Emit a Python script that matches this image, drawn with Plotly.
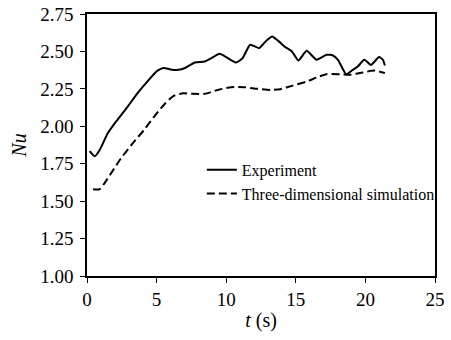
import plotly.graph_objects as go

# Experimental Nusselt number history
t_exp = [0.19, 0.55, 0.9, 1.49, 2.08, 2.91, 3.62, 4.44, 5.04, 5.5, 6.0, 6.57, 7.04,
         7.75, 8.46, 8.93, 9.52, 10.0, 10.7, 11.18, 11.72, 12.36, 12.83, 13.3, 13.78,
         14.25, 14.72, 15.19, 15.78, 16.49, 17.2, 17.67, 18.03, 18.62, 19.09, 19.45,
         19.92, 20.4, 20.98, 21.26, 21.4]
nu_exp = [1.834, 1.80, 1.84, 1.953, 2.031, 2.13, 2.22, 2.31, 2.37, 2.39, 2.38, 2.377, 2.389,
          2.426, 2.433, 2.455, 2.484, 2.462, 2.426, 2.455, 2.545, 2.522, 2.567, 2.60, 2.567,
          2.529, 2.50, 2.44, 2.504, 2.444, 2.478, 2.473, 2.444, 2.348, 2.377, 2.399,
          2.444, 2.41, 2.462, 2.444, 2.406]

# Three-dimensional simulation
t_sim = [0.43, 0.9, 1.25, 1.73, 2.44, 3.38, 4.09, 4.92, 5.63, 6.22, 6.92, 7.51, 8.46,
         9.4, 10.35, 11.3, 12.24, 13.18, 13.89, 14.72, 15.78, 16.49, 17.2, 18.14, 18.85,
         19.8, 20.62, 21.26, 21.4]
nu_sim = [1.579, 1.579, 1.619, 1.686, 1.786, 1.897, 1.975, 2.076, 2.154, 2.203, 2.22, 2.217,
          2.217, 2.243, 2.261, 2.261, 2.25, 2.243, 2.248, 2.27, 2.299, 2.326, 2.348, 2.348,
          2.344, 2.359, 2.372, 2.359, 2.355]

x_ticks = [0, 5, 10, 15, 20, 25]
y_ticks = [1.00, 1.25, 1.50, 1.75, 2.00, 2.25, 2.50, 2.75]

font = "Liberation Serif"

fig = go.Figure()
fig.add_trace(go.Scatter(x=t_exp, y=nu_exp, mode="lines", name="Experiment",
                         line=dict(color="black", width=2, shape="spline", smoothing=0.5)))
fig.add_trace(go.Scatter(x=t_sim, y=nu_sim, mode="lines", name="Three-dimensional simulation",
                         line=dict(color="black", width=2, dash="8px,4px",
                                   shape="spline", smoothing=0.6)))

axis_style = dict(showgrid=False, zeroline=False, showline=True, linecolor="black",
                  linewidth=1.5, mirror=True, ticks="outside", ticklen=5, tickwidth=1.2,
                  tickcolor="black", automargin=False, tickmode="array",
                  tickfont=dict(family=font, size=19, color="black"))

fig.update_layout(
    width=451, height=340,
    margin=dict(l=87, r=11, t=14, b=64),
    paper_bgcolor="white", plot_bgcolor="white",
    font=dict(family=font, size=19, color="black"),
    showlegend=True,
    legend=dict(x=0.33, y=0.47, xanchor="left", yanchor="top",
                bgcolor="rgba(0,0,0,0)", font=dict(family=font, size=16, color="black"),
                tracegroupgap=3, itemwidth=30),
    xaxis=dict(range=[0, 25], tickvals=x_ticks, ticktext=[str(v) for v in x_ticks],
               title=dict(text="<i>t</i> (s)", font=dict(family=font, size=20, color="black"),
                          standoff=4),
               **axis_style),
    yaxis=dict(range=[1.0, 2.75], tickvals=y_ticks, ticktext=[f"{v:.2f}" for v in y_ticks],
               ticklabelstandoff=3,
               title=dict(text="<i>Nu</i>", font=dict(family=font, size=20, color="black"),
                          standoff=8),
               **axis_style),
)

fig.write_html("out.html")
